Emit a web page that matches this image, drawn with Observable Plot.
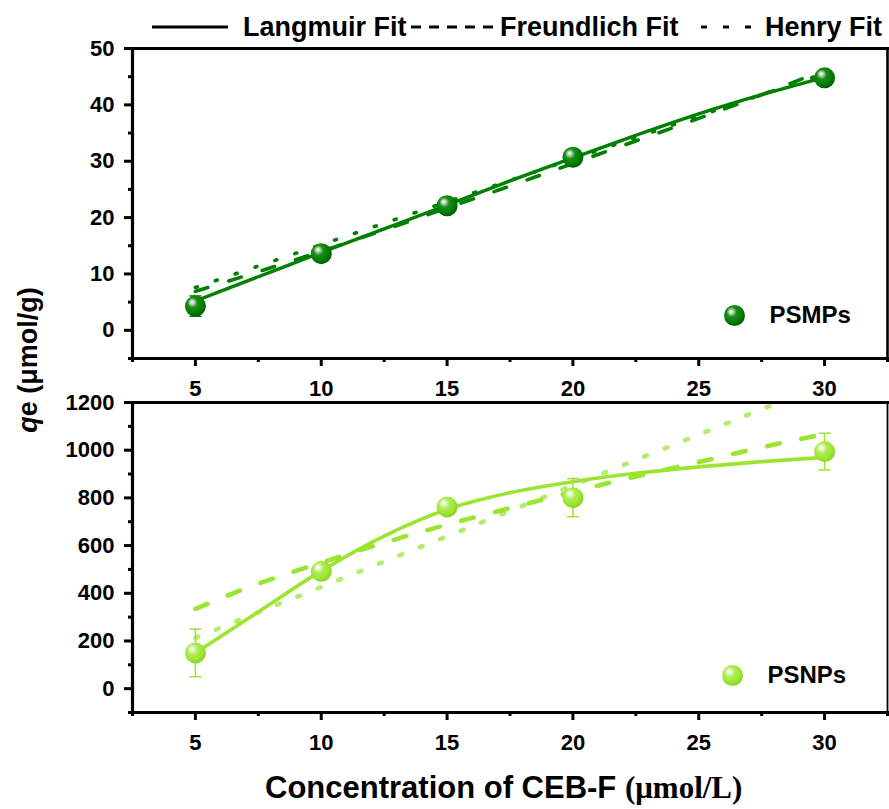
<!DOCTYPE html>
<html>
<head>
<meta charset="utf-8">
<script src="https://cdn.jsdelivr.net/npm/d3@7"></script>
<script src="https://cdn.jsdelivr.net/npm/@observablehq/plot@0.6"></script>
<style>
  html, body { margin: 0; padding: 0; background: #fff; overflow: hidden; }
  #wrap { position: relative; width: 889px; height: 809px; }
  #wrap > svg { position: absolute; left: 0; }
</style>
</head>
<body>
<div id="wrap"></div>
<script>
const FONT = '"Liberation Sans", Arial, Helvetica, sans-serif';
const SERIF = '"Liberation Serif", "Times New Roman", serif';

// ---- data ----
const conc = [5, 10, 15, 20, 30];
const psmpQ = [4.3, 13.6, 22.1, 30.7, 44.8];
const psmpErr = [1.8, 0.6, 0.8, 0.9, 0.7];
const psnpQ = [150, 492, 762, 801, 994];
const psnpErr = [100, 32, 15, 80, 77];

const fitC = [5, 7.5, 10, 12.5, 15, 17.5, 20, 22.5, 25, 27.5, 30];
const psmpLangmuir = [5.2, 9.5, 13.8, 18.0, 22.2, 26.5, 30.6, 34.6, 38.4, 41.8, 44.9];
const psmpFreundlich = [6.9, 10.4, 14.0, 17.8, 21.7, 25.6, 29.6, 33.6, 37.6, 41.8, 46.2];
const psmpHenry = [7.6, 11.4, 15.2, 19.0, 22.8, 26.6, 30.4, 34.2, 38.0, 41.8, 45.6];
const psnpLangmuir = [150, 322, 494, 640, 752, 822, 868, 903, 930, 952, 970];
const psnpFreundlich = [335, 440, 528, 612, 688, 757, 825, 890, 950, 1012, 1068];
const psnpHenry = [213, 320, 426, 533, 639, 746, 852, 959, 1065, 1172, 1278];

const xMajor = [5, 10, 15, 20, 25, 30];
const xMinor = [2.5, 7.5, 12.5, 17.5, 22.5, 27.5, 32.5];
const yTopMajor = [0, 10, 20, 30, 40, 50];
const yTopMinor = [-5, 5, 15, 25, 35, 45];
const yBotMajor = [0, 200, 400, 600, 800, 1000, 1200];
const yBotMinor = [-100, 100, 300, 500, 700, 900, 1100];

const fitLabels = ["Langmuir Fit", "Freundlich Fit", "Henry Fit"];
const seriesNames = ["PSMPs", "PSNPs"];
const xTitle = "Concentration of CEB-F ";
const xTitleUnit = "(μmol/L)";

// ---- helpers ----
const capSymbol = {
  draw(context, size) {
    const w = Math.sqrt(size / Math.PI);
    context.moveTo(-w, 0);
    context.lineTo(w, 0);
  }
};

function addGradient(svg, id, stops) {
  const defs = d3.select(svg).insert("defs", ":first-child");
  const g = defs.append("radialGradient").attr("id", id)
    .attr("cx", "42%").attr("cy", "40%").attr("r", "62%")
    .attr("fx", "33%").attr("fy", "30%");
  stops.forEach(([o, c]) => g.append("stop").attr("offset", o).attr("stop-color", c));
}

const tickText = {fontSize: 22, fontWeight: "bold", fill: "black", tickFormat: d3.format("d"), label: null};

function panel(o) {
  const pts = conc.map((c, i) => ({c, q: o.q[i], e: o.err[i]}));
  const fits = fitC.map((c, i) => ({c, L: o.fits[0][i], F: o.fits[1][i], H: o.fits[2][i]}));
  const fill = `url(#${o.gradId})`;
  const svg = Plot.plot({
    width: 889,
    height: o.height,
    marginTop: o.marginTop,
    marginBottom: o.marginBottom,
    marginLeft: 132,
    marginRight: 2,
    x: {domain: [2.5, 32.5]},
    y: {domain: o.yDomain},
    style: {fontFamily: FONT, fontSize: "22px", fontWeight: "bold", color: "black", background: "transparent", overflow: "visible"},
    marks: [
      Plot.line(fits, {x: "c", y: "H", stroke: o.henryColor, strokeWidth: o.lw2, strokeDasharray: o.dotDash, strokeLinecap: "round", clip: true}),
      Plot.line(fits, {x: "c", y: "F", stroke: o.color, strokeWidth: o.lw2, strokeDasharray: "13,22", strokeLinecap: "round", curve: "monotone-x", clip: true}),
      Plot.line(fits, {x: "c", y: "L", stroke: o.color, strokeWidth: o.lw1, curve: "monotone-x", clip: true}),
      Plot.ruleX(pts, {x: "c", y1: d => d.q - d.e, y2: d => d.q + d.e, stroke: o.color, strokeWidth: 1.5}),
      Plot.dot(pts, {x: "c", y: d => d.q + d.e, symbol: capSymbol, r: 6, fill: "none", stroke: o.color, strokeWidth: 1.5}),
      Plot.dot(pts, {x: "c", y: d => d.q - d.e, symbol: capSymbol, r: 6, fill: "none", stroke: o.color, strokeWidth: 1.5}),
      Plot.dot(pts, {x: "c", y: "q", r: 10.5, fill, stroke: null}),
      Plot.dot([o.name], {frameAnchor: "bottom-right", dx: o.ldx, dy: o.ldy, r: 10.5, fill, stroke: null}),
      Plot.text([o.name], {frameAnchor: "bottom-right", dx: o.ldx + 35, dy: o.ldy, text: d => d, textAnchor: "start", lineAnchor: "middle", fontSize: 24, fontWeight: "bold", fill: "black"}),
      Plot.axisY(o.yMajor, {tickSize: 8, tickPadding: 10, strokeWidth: 3, ...tickText}),
      Plot.axisY(o.yMinor, {tickSize: 4, strokeWidth: 3, text: null, label: null}),
      Plot.axisX(xMajor, {anchor: "bottom", tickSize: 8, tickPadding: 14, strokeWidth: 3, ...tickText}),
      Plot.axisX(xMinor, {anchor: "bottom", tickSize: 4, strokeWidth: 3, text: null, label: null}),
      Plot.frame({stroke: "black", strokeWidth: o.frameW}),
      Plot.frame({anchor: "left", stroke: "black", strokeWidth: 3.2}),
      Plot.frame({anchor: "bottom", stroke: "black", strokeWidth: 3.2}),
      Plot.frame({anchor: "top", stroke: "black", strokeWidth: 3.2})
    ]
  });
  addGradient(svg, o.gradId, o.stops);
  svg.style.top = o.top + "px";
  return svg;
}

const wrap = document.getElementById("wrap");

wrap.appendChild(panel({
  top: 0, height: 400, marginTop: 48, marginBottom: 42,
  yDomain: [-5, 50], yMajor: yTopMajor, yMinor: yTopMinor,
  q: psmpQ, err: psmpErr, fits: [psmpLangmuir, psmpFreundlich, psmpHenry],
  color: "#008000", henryColor: "#008000", lw1: 3.4, lw2: 3.6, frameW: 2.6, dotDash: "2,19",
  gradId: "sphereDark", name: seriesNames[0], ldx: -153, ldy: -43,
  stops: [["0%", "#ffffff"], ["14%", "#bfe0bf"], ["38%", "#1f8a1f"], ["72%", "#008000"], ["100%", "#005a00"]]
}));

wrap.appendChild(panel({
  top: 380, height: 380, marginTop: 22, marginBottom: 48,
  yDomain: [-100, 1200], yMajor: yBotMajor, yMinor: yBotMinor,
  q: psnpQ, err: psnpErr, fits: [psnpLangmuir, psnpFreundlich, psnpHenry],
  color: "#9be531", henryColor: "#b6ec6e", lw1: 3.6, lw2: 4.6, frameW: 1.8, dotDash: "3,19",
  gradId: "sphereLight", name: seriesNames[1], ldx: -155, ldy: -37,
  stops: [["0%", "#ffffff"], ["14%", "#e8fbd0"], ["40%", "#b0ec58"], ["75%", "#9be531"], ["100%", "#86cf22"]]
}));

// ---- overlay: fit legend and axis titles ----
const ov = d3.create("svg").attr("width", 889).attr("height", 809)
  .style("top", "0px").style("pointer-events", "none")
  .attr("font-family", FONT).attr("font-weight", "bold");

const legendItems = [
  {x1: 152, x2: 228, dash: null, tx: 243},
  {x1: 411, x2: 493, dash: "10,8", tx: 500},
  {x1: 701, x2: 751, dash: "6,16", tx: 765}
];
legendItems.forEach((it, i) => {
  ov.append("line").attr("x1", it.x1).attr("x2", it.x2).attr("y1", 27).attr("y2", 27)
    .attr("stroke", "black").attr("stroke-width", 3)
    .attr("stroke-dasharray", it.dash);
  ov.append("text").attr("x", it.tx).attr("y", 36).attr("font-size", 27)
    .attr("fill", "black").text(fitLabels[i]);
});

const yt = ov.append("text").attr("transform", "translate(37,360) rotate(-90)")
  .attr("text-anchor", "middle").attr("font-size", 27).attr("fill", "black");
yt.append("tspan").attr("font-style", "italic").text("q");
yt.append("tspan").text("e (μmol/g)");

const xt = ov.append("text").attr("x", 265).attr("y", 798).attr("font-size", 31).attr("fill", "black");
xt.append("tspan").text(xTitle);
xt.append("tspan").attr("font-family", SERIF).attr("font-size", 31).text(xTitleUnit);

wrap.appendChild(ov.node());
</script>
</body>
</html>
